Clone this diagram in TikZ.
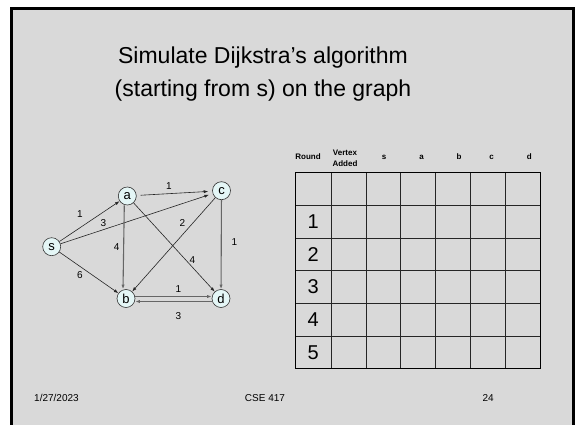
\documentclass[tikz,border=0pt]{standalone}
\usepackage{fontspec}
\setmainfont{Liberation Sans}
\usetikzlibrary{arrows.meta}
\definecolor{slidegray}{RGB}{217,217,217}
\definecolor{nodefill}{RGB}{228,246,246}
\begin{document}
\begin{tikzpicture}[x=1pt,y=-1pt,
  vtx/.style={circle,draw=black!80,line width=0.6pt,fill=nodefill,minimum size=18pt,inner sep=0pt,font=\fontsize{13}{13}\selectfont},
  edge/.style={-{Latex[length=4.5pt,width=3.2pt]},line width=0.6pt,draw=black!85},
  gedge/.style={edge,line width=1.1pt,draw=black!60},
  wt/.style={font=\fontsize{10}{10}\selectfont,inner sep=0pt},
  hdr/.style={font=\bfseries\fontsize{8}{10.5}\selectfont,inner sep=0pt,align=center,anchor=base},
  num/.style={font=\fontsize{20}{20}\selectfont,inner sep=0pt},
  foot/.style={font=\fontsize{10}{10}\selectfont,inner sep=0pt,anchor=base},
  ttl/.style={font=\fontsize{23}{23}\selectfont,inner sep=0pt,anchor=base}]
\useasboundingbox (0,0) rectangle (578,425);
\fill[white] (0,0) rectangle (578,425);
\draw[line width=3pt,fill=slidegray] (11.5,8.5) rectangle (573.5,445);

% title
\node[ttl] (title1) at (263,64) {Simulate Dijkstra’s algorithm};
\node[ttl] (title2) at (263,96.5) {(starting from s) on the graph};

% graph
\node[vtx] (s) at (51.7,246.7) {s};
\node[vtx] (a) at (127.3,196) {a};
\node[vtx] (c) at (221.5,190.7) {c};
\node[vtx] (b) at (126,298.5) {b};
\node[vtx] (d) at (221,298.5) {d};

\draw[edge] (s) -- (a);
\draw[edge,shorten >=4pt] (s) -- (c);
\draw[edge] (s) -- (b);
\draw[edge,shorten <=4pt,shorten >=4pt] (a) -- (c);
\draw[gedge] ([xshift=-3pt]a.south) -- ([xshift=-3pt]b.north);
\draw[edge] (a) -- (d);
\draw[edge] (c) -- (b);
\draw[gedge] (c) -- (d);
\draw[gedge] ([yshift=2pt]b.east) -- ([yshift=2pt]d.west);
\draw[gedge] ([yshift=-3pt]d.west) -- ([yshift=-3pt]b.east);

\node[wt] (wsa) at (80,214) {1};
\node[wt] (wsc) at (103.3,222.7) {3};
\node[wt] (wab) at (116.7,247.3) {4};
\node[wt] (wsb) at (80,275) {6};
\node[wt] (wac) at (169,186) {1};
\node[wt] (wcb) at (182.3,223.3) {2};
\node[wt] (wcd) at (234.3,241.7) {1};
\node[wt] (wad) at (192.3,260) {4};
\node[wt] (wbd) at (178.3,289.3) {1};
\node[wt] (wdb) at (178.3,316) {3};

% table header
\node[hdr] (hround) at (308,160) {Round};
\node[hdr] (hvert) at (345,166.5) {Vertex\\Added};
\node[hdr] (hs) at (384,159) {s};
\node[hdr] (ha) at (421.7,159) {a};
\node[hdr] (hb) at (459,159) {b};
\node[hdr] (hc) at (491.7,159) {c};
\node[hdr] (hd) at (529.3,159) {d};

% table grid
\foreach \x in {331,366,400.7,435.7,470.7,505.7}
  \draw[line width=0.8pt,black!85] (\x,172.7) -- (\x,368.7);
\foreach \y in {205.3,238,270.7,303.3,336}
  \draw[line width=0.8pt,black!85] (295.7,\y) -- (540.7,\y);
\draw[line width=1.3pt] (295.7,172.7) rectangle (540.7,368.7);

\node[num] (r1) at (313.3,221.7) {1};
\node[num] (r2) at (313.3,254.3) {2};
\node[num] (r3) at (313.3,287) {3};
\node[num] (r4) at (313.3,319.7) {4};
\node[num] (r5) at (313.3,352.3) {5};

% footer
\node[foot,anchor=base west] (fdate) at (34,401) {1/27/2023};
\node[foot] (fcourse) at (265,401) {CSE 417};
\node[foot,anchor=base east] (fpage) at (494,401) {24};
\end{tikzpicture}
\end{document}
